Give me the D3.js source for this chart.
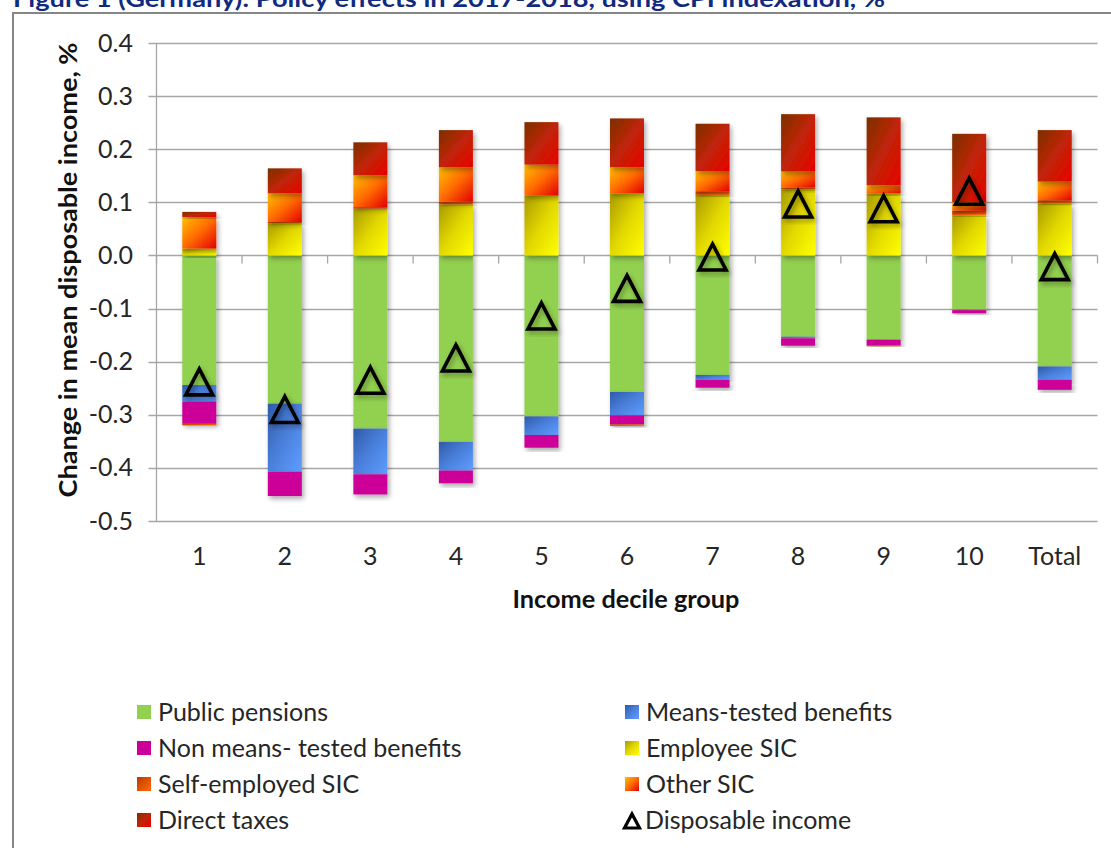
<!DOCTYPE html>
<html><head><meta charset="utf-8">
<script src="https://cdn.jsdelivr.net/npm/d3@7"></script>
<style>
body{margin:0;background:#fff;overflow:hidden;}
text{font-family:Lato,"Open Sans",sans-serif;}
</style>
</head><body>
<svg id="c" width="1111" height="848"></svg>
<script>
// ---- data ----
const categories = ["1","2","3","4","5","6","7","8","9","10","Total"];
const publicPensions   = [-0.244,-0.279,-0.326,-0.351,-0.303,-0.257,-0.225,-0.153,-0.158,-0.102,-0.209];
const meansTested      = [-0.031,-0.128,-0.086,-0.054,-0.035,-0.044,-0.009,-0.003,-0.001,-0.001,-0.025];
const nonMeansTested   = [-0.042,-0.046,-0.038,-0.024,-0.024,-0.017,-0.015,-0.014,-0.010,-0.006,-0.019];
const employeeSIC      = [0.013,0.060,0.088,0.096,0.112,0.117,0.114,0.124,0.117,0.076,0.098];
const selfEmployedSIC  = [-0.003,0.003,0.003,0.005,0.001,-0.003,0.007,0.004,-0.002,0.008,0.006];
const otherSIC         = [0.059,0.054,0.060,0.065,0.058,0.049,0.038,0.030,0.015,0.016,0.035];
const directTaxes      = [0.010,0.047,0.062,0.070,0.080,0.092,0.089,0.108,0.128,0.129,0.097];
const disposableIncome = [-0.238,-0.290,-0.235,-0.193,-0.114,-0.062,-0.003,0.097,0.088,0.121,-0.021];
const yTicks = [0.4,0.3,0.2,0.1,0.0,-0.1,-0.2,-0.3,-0.4,-0.5];
const seriesNames = ["Public pensions","Means-tested benefits","Non means- tested benefits","Employee SIC","Self-employed SIC","Other SIC","Direct taxes"];
const titleText = "Figure 1 (Germany): Policy effects in 2017-2018, using CPI indexation, %";
const yTitle = "Change in mean disposable income, %";
const xTitle = "Income decile group";
const triLabel = "Disposable income";

// ---- build ----
const seriesArrays = [publicPensions,meansTested,nonMeansTested,employeeSIC,selfEmployedSIC,otherSIC,directTaxes];
const keys = ["pp","mt","nmt","emp","self","oth","dt"];
const rows = categories.map((c,i)=>{const r={cat:c}; keys.forEach((k,j)=>r[k]=seriesArrays[j][i]); return r;});
const stack = d3.stack().keys(keys).offset(d3.stackOffsetDiverging)(rows);

const svg = d3.select("#c");
const defs = svg.append("defs");
const grads = {
  pp:null,
  mt:["#2f5aa8","#4a80dc","#5f9dff"],
  nmt:null,
  emp:["#a89a00","#e2d800","#ffff00"],
  self:["#b33a00","#e05200","#ff6a10"],
  oth:["#ffc000","#ff6a00","#e20000"],
  dt:["#7a3000","#c02508","#e80000"]
};
const flat = {pp:"#92d050", nmt:"#cc0099"};
keys.forEach(k=>{
  if(grads[k]){
    const g = defs.append("linearGradient").attr("id","g_"+k).attr("x1",0).attr("y1",0).attr("x2",1).attr("y2",1);
    grads[k].forEach((c,i)=>g.append("stop").attr("offset",i/(grads[k].length-1)).attr("stop-color",c));
  }
});
const fillOf = k => grads[k] ? `url(#g_${k})` : flat[k];
const sh = defs.append("filter").attr("id","sh").attr("x","-30%").attr("y","-30%").attr("width","160%").attr("height","160%");
sh.append("feDropShadow").attr("dx",2).attr("dy",3).attr("stdDeviation",2.5).attr("flood-color","#000").attr("flood-opacity",0.33);

// title (partially cut off at top, as in the source)
svg.append("text").attr("x",13).attr("y",7).attr("font-size",22).attr("font-weight","bold")
  .attr("fill","#102a80").attr("textLength",872).attr("lengthAdjust","spacingAndGlyphs").text(titleText);

// frame
svg.append("path").attr("d","M13,860 V13 H1120").attr("fill","none").attr("stroke","#868686").attr("stroke-width",2);

const x0 = 156.5, x1 = 1097.5;
const x = d3.scaleBand().domain(categories).range([x0,x1]).padding(0);
const y = d3.scaleLinear().domain([-0.5,0.4]).range([521,43]);
const barW = 34;
const fs = 25;

// gridlines
svg.append("g").selectAll("line").data(yTicks).join("line")
  .attr("x1",x0-8).attr("x2",x1).attr("y1",d=>Math.round(y(d))+0.5).attr("y2",d=>Math.round(y(d))+0.5)
  .attr("stroke","#a6a6a6").attr("stroke-width",1.3);
// y axis line
svg.append("line").attr("x1",x0).attr("x2",x0).attr("y1",y(0.4)).attr("y2",y(-0.5)).attr("stroke","#a6a6a6").attr("stroke-width",1.3);
// y tick labels
svg.append("g").selectAll("text").data(yTicks).join("text")
  .attr("x",133).attr("y",d=>y(d)+8.5).attr("text-anchor","end").attr("font-size",fs).attr("fill","#262626")
  .text(d=>d3.format(".1f")(d).replace("−","-"));
// x tick marks at band boundaries
const bounds = categories.map(c=>x(c)).concat([x1]);
svg.append("g").selectAll("line").data(bounds).join("line")
  .attr("x1",d=>d).attr("x2",d=>d).attr("y1",y(0)).attr("y2",y(0)+8).attr("stroke","#a6a6a6").attr("stroke-width",1.3);

// bars
const barsG = svg.append("g");
stack.forEach(s=>{
  barsG.append("g").selectAll("rect").data(s.filter(d=>Math.abs(d[1]-d[0])>1e-9)).join("rect")
    .attr("x",d=>x(d.data.cat)+x.bandwidth()/2-barW/2).attr("width",barW)
    .attr("y",d=>y(Math.max(d[0],d[1]))).attr("height",d=>Math.abs(y(d[0])-y(d[1])))
    .attr("fill",fillOf(s.key)).attr("filter","url(#sh)");
});

// triangles
const triW=27, triH=26;
const triPath = `M0,${-triH/2} L${triW/2},${triH/2} L${-triW/2},${triH/2} Z`;
svg.append("g").selectAll("path").data(disposableIncome).join("path")
  .attr("d",triPath).attr("transform",(d,i)=>`translate(${x(categories[i])+x.bandwidth()/2},${y(d)})`)
  .attr("fill","none").attr("stroke","#000").attr("stroke-width",3.6).attr("stroke-linejoin","miter").attr("filter","url(#sh)");

// x labels
svg.append("g").selectAll("text").data(categories).join("text")
  .attr("x",c=>x(c)+x.bandwidth()/2).attr("y",565).attr("text-anchor","middle").attr("font-size",fs).attr("fill","#262626").text(c=>c);

// axis titles
svg.append("text").attr("x",626).attr("y",608).attr("text-anchor","middle").attr("font-size",24).attr("font-weight","bold").attr("fill","#111")
  .attr("textLength",227).attr("lengthAdjust","spacingAndGlyphs").text(xTitle);
svg.append("text").attr("transform","translate(77,270) rotate(-90)").attr("text-anchor","middle").attr("font-size",24).attr("font-weight","bold").attr("fill","#111")
  .attr("textLength",455).attr("lengthAdjust","spacingAndGlyphs").text(yTitle);

// legend
const legendItems = [
  {k:"pp",   col:0,row:0},{k:"mt",  col:1,row:0},
  {k:"nmt",  col:0,row:1},{k:"emp", col:1,row:1},
  {k:"self", col:0,row:2},{k:"oth", col:1,row:2},
  {k:"dt",   col:0,row:3},{k:"tri", col:1,row:3}
];
const lg = svg.append("g");
const colX = [137,625], rowY=[712,748,784,820];
legendItems.forEach(it=>{
  const gx = colX[it.col], gy = rowY[it.row];
  if(it.k==="tri"){
    lg.append("path").attr("d","M0,-7 L7.5,7 L-7.5,7 Z").attr("transform",`translate(${gx+7},${gy+1})`)
      .attr("fill","none").attr("stroke","#000").attr("stroke-width",3.2);
    lg.append("text").attr("x",gx+20).attr("y",gy+9).attr("font-size",fs).attr("fill","#262626").text(triLabel);
  } else {
    lg.append("rect").attr("x",gx).attr("y",gy-7).attr("width",14).attr("height",14).attr("fill",fillOf(it.k));
    lg.append("text").attr("x",gx+21).attr("y",gy+9).attr("font-size",fs).attr("fill","#262626").text(seriesNames[keys.indexOf(it.k)]);
  }
});
</script>
</body></html>
